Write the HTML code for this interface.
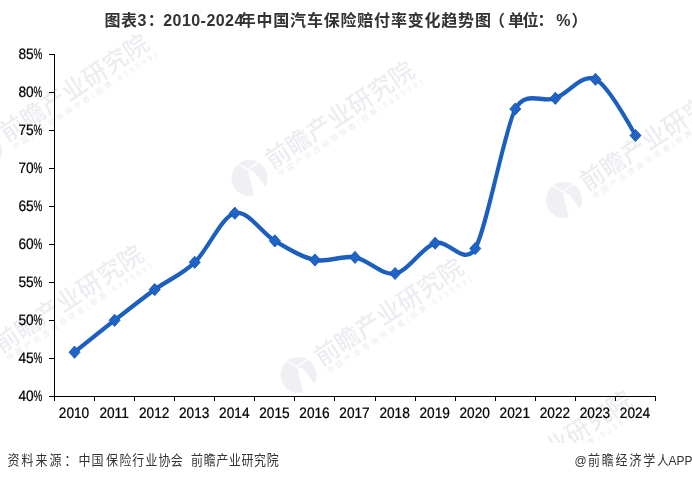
<!DOCTYPE html>
<html lang="zh-CN"><head><meta charset="utf-8"><title>图表3：2010-2024年中国汽车保险赔付率变化趋势图</title>
<style>
html,body{margin:0;padding:0;background:#fff;}
body{width:692px;height:481px;overflow:hidden;}
svg{display:block;}
text{font-family:"Liberation Sans","Noto Sans CJK SC",sans-serif;}
</style></head><body>
<svg width="692" height="481" viewBox="0 0 692 481">
<rect width="692" height="481" fill="#fff"/>
<g class="wm">
<g transform="translate(-16 151)"><g transform="rotate(-33.3)"><text x="23.8" y="5.5" font-size="24.5" font-weight="500" letter-spacing="0.15" fill="#ecedf1">前瞻产业研究院</text><text x="26" y="16" font-size="7.5" letter-spacing="2.97" fill="#e9ebef">中国产业咨询领导者(股票:839599)</text></g><circle cx="0" cy="0" r="18" fill="#eef0f3"/><path d="M-1.6 -8.8 L5.2 -5.7 L16.5 9.5 L5 19 Z" fill="#fff"/><path d="M-11.5 -14 L-1.6 -8.5 L9.5 -16" fill="none" stroke="#fff" stroke-width="1.4"/></g>
<g transform="translate(249.5 178)"><g transform="rotate(-33.3)"><text x="23.8" y="5.5" font-size="24.5" font-weight="500" letter-spacing="0.15" fill="#ecedf1">前瞻产业研究院</text><text x="26" y="16" font-size="7.5" letter-spacing="2.97" fill="#e9ebef">中国产业咨询领导者(股票:839599)</text></g><circle cx="0" cy="0" r="18" fill="#eef0f3"/><path d="M-1.6 -8.8 L5.2 -5.7 L16.5 9.5 L5 19 Z" fill="#fff"/><path d="M-11.5 -14 L-1.6 -8.5 L9.5 -16" fill="none" stroke="#fff" stroke-width="1.4"/></g>
<g transform="translate(564 200)"><g transform="rotate(-33.3)"><text x="23.8" y="5.5" font-size="24.5" font-weight="500" letter-spacing="0.15" fill="#ecedf1">前瞻产业研究院</text><text x="26" y="16" font-size="7.5" letter-spacing="2.97" fill="#e9ebef">中国产业咨询领导者(股票:839599)</text></g><circle cx="0" cy="0" r="18" fill="#eef0f3"/><path d="M-1.6 -8.8 L5.2 -5.7 L16.5 9.5 L5 19 Z" fill="#fff"/><path d="M-11.5 -14 L-1.6 -8.5 L9.5 -16" fill="none" stroke="#fff" stroke-width="1.4"/></g>
<g transform="translate(-21.5 362)"><g transform="rotate(-33.3)"><text x="23.8" y="5.5" font-size="24.5" font-weight="500" letter-spacing="0.15" fill="#ecedf1">前瞻产业研究院</text><text x="26" y="16" font-size="7.5" letter-spacing="2.97" fill="#e9ebef">中国产业咨询领导者(股票:839599)</text></g><circle cx="0" cy="0" r="18" fill="#eef0f3"/><path d="M-1.6 -8.8 L5.2 -5.7 L16.5 9.5 L5 19 Z" fill="#fff"/><path d="M-11.5 -14 L-1.6 -8.5 L9.5 -16" fill="none" stroke="#fff" stroke-width="1.4"/></g>
<g transform="translate(298.5 375)"><g transform="rotate(-33.3)"><text x="23.8" y="5.5" font-size="24.5" font-weight="500" letter-spacing="0.15" fill="#ecedf1">前瞻产业研究院</text><text x="26" y="16" font-size="7.5" letter-spacing="2.97" fill="#e9ebef">中国产业咨询领导者(股票:839599)</text></g><circle cx="0" cy="0" r="18" fill="#eef0f3"/><path d="M-1.6 -8.8 L5.2 -5.7 L16.5 9.5 L5 19 Z" fill="#fff"/><path d="M-11.5 -14 L-1.6 -8.5 L9.5 -16" fill="none" stroke="#fff" stroke-width="1.4"/></g>
<g transform="translate(467 507.5)"><g transform="rotate(-33.3)"><text x="23.8" y="5.5" font-size="24.5" font-weight="500" letter-spacing="0.15" fill="#ecedf1">前瞻产业研究院</text><text x="26" y="16" font-size="7.5" letter-spacing="2.97" fill="#e9ebef">中国产业咨询领导者(股票:839599)</text></g><circle cx="0" cy="0" r="18" fill="#eef0f3"/><path d="M-1.6 -8.8 L5.2 -5.7 L16.5 9.5 L5 19 Z" fill="#fff"/><path d="M-11.5 -14 L-1.6 -8.5 L9.5 -16" fill="none" stroke="#fff" stroke-width="1.4"/></g>
</g>
<rect x="0" y="443" width="692" height="38" fill="#fff"/>
<g stroke="#000" stroke-width="1" fill="none" shape-rendering="crispEdges">
<line x1="54.5" y1="54" x2="54.5" y2="397"/>
<line x1="54.0" y1="396.5" x2="656" y2="396.5"/>
<line x1="49" y1="396.5" x2="54.5" y2="396.5"/>
<line x1="49" y1="358.5" x2="54.5" y2="358.5"/>
<line x1="49" y1="320.5" x2="54.5" y2="320.5"/>
<line x1="49" y1="282.5" x2="54.5" y2="282.5"/>
<line x1="49" y1="244.5" x2="54.5" y2="244.5"/>
<line x1="49" y1="206.5" x2="54.5" y2="206.5"/>
<line x1="49" y1="168.5" x2="54.5" y2="168.5"/>
<line x1="49" y1="130.5" x2="54.5" y2="130.5"/>
<line x1="49" y1="92.5" x2="54.5" y2="92.5"/>
<line x1="49" y1="54.5" x2="54.5" y2="54.5"/>
<line x1="54.5" y1="396.5" x2="54.5" y2="401"/>
<line x1="94.5" y1="396.5" x2="94.5" y2="401"/>
<line x1="134.5" y1="396.5" x2="134.5" y2="401"/>
<line x1="174.5" y1="396.5" x2="174.5" y2="401"/>
<line x1="214.5" y1="396.5" x2="214.5" y2="401"/>
<line x1="254.5" y1="396.5" x2="254.5" y2="401"/>
<line x1="294.5" y1="396.5" x2="294.5" y2="401"/>
<line x1="334.5" y1="396.5" x2="334.5" y2="401"/>
<line x1="375.5" y1="396.5" x2="375.5" y2="401"/>
<line x1="415.5" y1="396.5" x2="415.5" y2="401"/>
<line x1="455.5" y1="396.5" x2="455.5" y2="401"/>
<line x1="495.5" y1="396.5" x2="495.5" y2="401"/>
<line x1="535.5" y1="396.5" x2="535.5" y2="401"/>
<line x1="575.5" y1="396.5" x2="575.5" y2="401"/>
<line x1="615.5" y1="396.5" x2="615.5" y2="401"/>
<line x1="655.5" y1="396.5" x2="655.5" y2="401"/>
</g>
<g font-size="13.7" fill="#000" stroke="#000" stroke-width="0.22" text-rendering="geometricPrecision">
<text transform="translate(33.7 400.8) scale(1 1.1)" text-anchor="end">40</text><text transform="translate(33.6 400.8) scale(0.72 1.1)">%</text>
<text transform="translate(33.7 362.8) scale(1 1.1)" text-anchor="end">45</text><text transform="translate(33.6 362.8) scale(0.72 1.1)">%</text>
<text transform="translate(33.7 324.8) scale(1 1.1)" text-anchor="end">50</text><text transform="translate(33.6 324.8) scale(0.72 1.1)">%</text>
<text transform="translate(33.7 286.8) scale(1 1.1)" text-anchor="end">55</text><text transform="translate(33.6 286.8) scale(0.72 1.1)">%</text>
<text transform="translate(33.7 248.8) scale(1 1.1)" text-anchor="end">60</text><text transform="translate(33.6 248.8) scale(0.72 1.1)">%</text>
<text transform="translate(33.7 210.8) scale(1 1.1)" text-anchor="end">65</text><text transform="translate(33.6 210.8) scale(0.72 1.1)">%</text>
<text transform="translate(33.7 172.8) scale(1 1.1)" text-anchor="end">70</text><text transform="translate(33.6 172.8) scale(0.72 1.1)">%</text>
<text transform="translate(33.7 134.8) scale(1 1.1)" text-anchor="end">75</text><text transform="translate(33.6 134.8) scale(0.72 1.1)">%</text>
<text transform="translate(33.7 96.8) scale(1 1.1)" text-anchor="end">80</text><text transform="translate(33.6 96.8) scale(0.72 1.1)">%</text>
<text transform="translate(33.7 58.8) scale(1 1.1)" text-anchor="end">85</text><text transform="translate(33.6 58.8) scale(0.72 1.1)">%</text>
<text transform="translate(74.0 417.8) scale(1 1.1)" text-anchor="middle">2010</text>
<text transform="translate(114.1 417.8) scale(1 1.1)" text-anchor="middle">2011</text>
<text transform="translate(154.2 417.8) scale(1 1.1)" text-anchor="middle">2012</text>
<text transform="translate(194.2 417.8) scale(1 1.1)" text-anchor="middle">2013</text>
<text transform="translate(234.3 417.8) scale(1 1.1)" text-anchor="middle">2014</text>
<text transform="translate(274.4 417.8) scale(1 1.1)" text-anchor="middle">2015</text>
<text transform="translate(314.5 417.8) scale(1 1.1)" text-anchor="middle">2016</text>
<text transform="translate(354.5 417.8) scale(1 1.1)" text-anchor="middle">2017</text>
<text transform="translate(394.6 417.8) scale(1 1.1)" text-anchor="middle">2018</text>
<text transform="translate(434.7 417.8) scale(1 1.1)" text-anchor="middle">2019</text>
<text transform="translate(474.7 417.8) scale(1 1.1)" text-anchor="middle">2020</text>
<text transform="translate(514.8 417.8) scale(1 1.1)" text-anchor="middle">2021</text>
<text transform="translate(554.9 417.8) scale(1 1.1)" text-anchor="middle">2022</text>
<text transform="translate(594.9 417.8) scale(1 1.1)" text-anchor="middle">2023</text>
<text transform="translate(635.0 417.8) scale(1 1.1)" text-anchor="middle">2024</text>
</g>
<g transform="scale(1 1.1)">
<path d="M74.53 320.18 C74.53 320.18 101.25 300.67 114.61 291.18 C127.96 281.70 141.32 272.06 154.68 263.27 C168.03 254.48 181.39 250.03 194.75 238.45 C208.10 226.88 221.46 197.06 234.81 193.82 C248.17 190.58 261.53 211.91 274.88 219.00 C288.24 226.09 301.60 233.86 314.95 236.36 C328.31 238.86 341.67 231.95 355.02 234.00 C368.38 236.05 381.74 250.79 395.10 248.64 C408.45 246.48 421.81 224.88 435.17 221.09 C448.52 217.30 464.16 242.78 475.24 225.91 C486.31 209.04 504.87 116.87 515.31 99.09 C525.74 81.31 542.02 93.86 555.38 89.36 C568.73 84.86 582.09 66.45 595.45 72.09 C608.80 77.73 635.51 123.18 635.51 123.18" fill="none" stroke="#1c5fbe" stroke-width="4" stroke-linecap="round" stroke-linejoin="round"/>
<path d="M68.98 320.18L74.53 314.63L80.08 320.18L74.53 325.73Z" fill="#1e63c6" stroke="#1a56b2" stroke-width="0.8" stroke-linejoin="round"/>
<path d="M109.06 291.18L114.61 285.63L120.16 291.18L114.61 296.73Z" fill="#1e63c6" stroke="#1a56b2" stroke-width="0.8" stroke-linejoin="round"/>
<path d="M149.12 263.27L154.68 257.72L160.23 263.27L154.68 268.82Z" fill="#1e63c6" stroke="#1a56b2" stroke-width="0.8" stroke-linejoin="round"/>
<path d="M189.19 238.45L194.75 232.90L200.30 238.45L194.75 244.00Z" fill="#1e63c6" stroke="#1a56b2" stroke-width="0.8" stroke-linejoin="round"/>
<path d="M229.26 193.82L234.81 188.27L240.37 193.82L234.81 199.37Z" fill="#1e63c6" stroke="#1a56b2" stroke-width="0.8" stroke-linejoin="round"/>
<path d="M269.33 219.00L274.88 213.45L280.44 219.00L274.88 224.55Z" fill="#1e63c6" stroke="#1a56b2" stroke-width="0.8" stroke-linejoin="round"/>
<path d="M309.40 236.36L314.95 230.81L320.50 236.36L314.95 241.91Z" fill="#1e63c6" stroke="#1a56b2" stroke-width="0.8" stroke-linejoin="round"/>
<path d="M349.47 234.00L355.02 228.45L360.57 234.00L355.02 239.55Z" fill="#1e63c6" stroke="#1a56b2" stroke-width="0.8" stroke-linejoin="round"/>
<path d="M389.55 248.64L395.10 243.09L400.65 248.64L395.10 254.19Z" fill="#1e63c6" stroke="#1a56b2" stroke-width="0.8" stroke-linejoin="round"/>
<path d="M429.62 221.09L435.17 215.54L440.72 221.09L435.17 226.64Z" fill="#1e63c6" stroke="#1a56b2" stroke-width="0.8" stroke-linejoin="round"/>
<path d="M469.69 225.91L475.24 220.36L480.79 225.91L475.24 231.46Z" fill="#1e63c6" stroke="#1a56b2" stroke-width="0.8" stroke-linejoin="round"/>
<path d="M509.76 99.09L515.31 93.54L520.86 99.09L515.31 104.64Z" fill="#1e63c6" stroke="#1a56b2" stroke-width="0.8" stroke-linejoin="round"/>
<path d="M549.83 89.36L555.38 83.81L560.92 89.36L555.38 94.91Z" fill="#1e63c6" stroke="#1a56b2" stroke-width="0.8" stroke-linejoin="round"/>
<path d="M589.90 72.09L595.45 66.54L601.00 72.09L595.45 77.64Z" fill="#1e63c6" stroke="#1a56b2" stroke-width="0.8" stroke-linejoin="round"/>
<path d="M629.97 123.18L635.51 117.63L641.06 123.18L635.51 128.73Z" fill="#1e63c6" stroke="#1a56b2" stroke-width="0.8" stroke-linejoin="round"/>
</g>
<text x="104.5 121.0 137.4 147.8 163.2 172.6 181.9 191.3 200.6 206.4 215.7 225.1 234.4 239.7 256.5 273.3 290.1 306.9 323.7 340.5 357.3 374.1 390.9 407.7 424.5 441.3 458.1 474.9 489.0 508.0 522.4 537.4 556.3 571.5" y="25.5" font-size="16" font-weight="700" fill="#333">图表3：2010-2024年中国汽车保险赔付率变化趋势图（单位：%）</text>
<g font-size="12" fill="#333" transform="translate(0 465.2) scale(1 1.1)">
<text x="7.5 21.5 35.5 49.5 64.5 78.4 91.6 106.0 119.6 132.3 145.6 158.4 170.8" y="0">资料来源：中国保险行业协会</text>
<text x="191.1" y="0" letter-spacing="0.6">前瞻产业研究院</text>
<text x="574.4 588.0 601.8 615.6 629.4 643.2 657.0 668.5 676.4 684.6" y="0">@前瞻经济学人APP</text>
</g>
</svg>
</body></html>
